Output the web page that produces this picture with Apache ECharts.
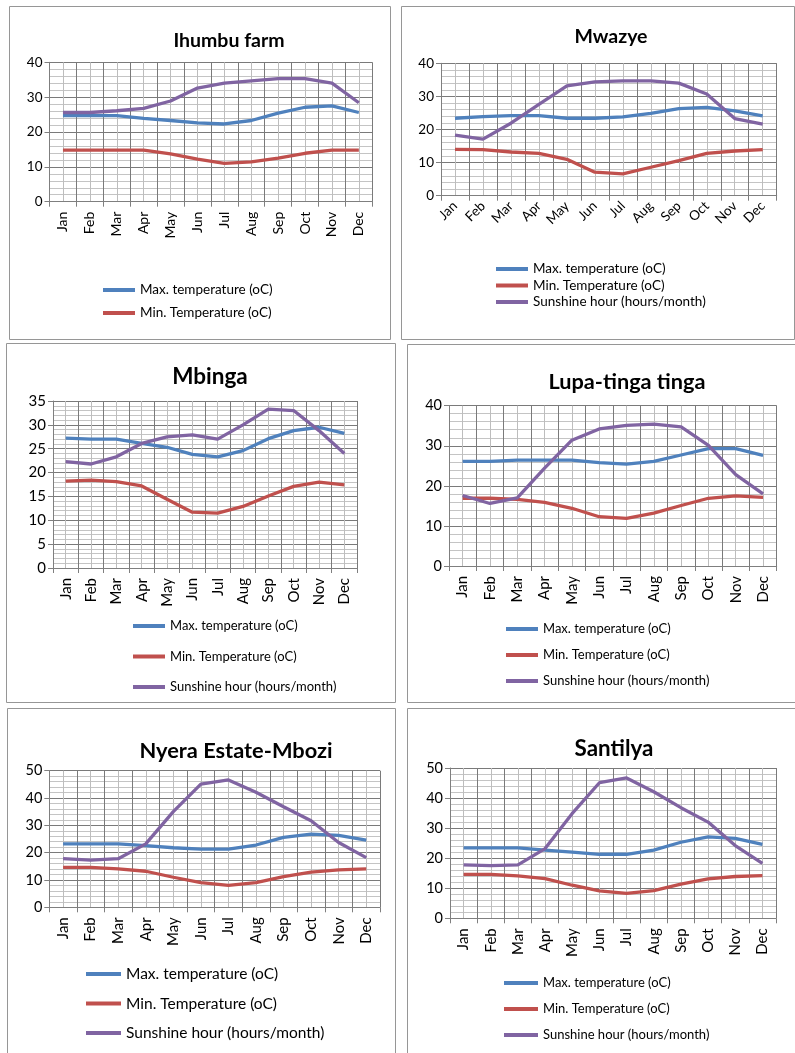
<!DOCTYPE html>
<html><head><meta charset="utf-8">
<script src="https://cdn.jsdelivr.net/npm/echarts@6/dist/echarts.min.js"></script>
<style>html,body{margin:0;padding:0;background:#fff}#c{width:795px;height:1053px}</style>
</head><body><div id="c"></div>
<script>
// ---- data ----
const months = ['Jan','Feb','Mar','Apr','May','Jun','Jul','Aug','Sep','Oct','Nov','Dec'];
const seriesNames = ['Max. temperature (oC)','Min. Temperature (oC)','Sunshine hour (hours/month)'];
const panelTitles = ['Ihumbu farm','Mwazye','Mbinga','Lupa-tinga tinga','Nyera Estate-Mbozi','Santilya'];
const yMaxima = [40, 40, 35, 40, 50, 50];
const yIntervals = [10, 10, 5, 10, 10, 10];

const ihumbuMax = [24.7,24.7,24.7,23.9,23.3,22.6,22.3,23.3,25.4,27.1,27.5,25.6];
const ihumbuMin = [14.8,14.8,14.8,14.8,13.7,12.2,11.0,11.4,12.5,13.9,14.8,14.8];
const ihumbuSun = [25.6,25.6,26.1,26.8,28.9,32.6,34.0,34.7,35.3,35.3,34.0,28.4];

const mwazyeMax = [23.4,23.9,24.2,24.2,23.4,23.4,23.8,24.9,26.3,26.7,25.6,24.1];
const mwazyeMin = [14.0,13.9,13.2,12.8,11.0,7.1,6.6,8.6,10.6,12.8,13.5,13.9];
const mwazyeSun = [18.3,17.1,21.9,27.6,33.2,34.4,34.7,34.7,34.0,30.7,23.3,21.6];

const mbingaMax = [27.2,27.0,27.0,26.1,25.3,23.8,23.3,24.6,27.1,28.8,29.5,28.2];
const mbingaMin = [18.2,18.4,18.1,17.2,14.4,11.7,11.5,12.9,15.1,17.1,18.0,17.4];
const mbingaSun = [22.3,21.8,23.3,26.1,27.5,27.9,27.0,30.0,33.3,33.0,28.8,24.0];

const lupaMax = [26.1,26.1,26.4,26.4,26.4,25.8,25.4,26.1,27.7,29.3,29.3,27.6];
const lupaMin = [16.9,16.9,16.6,15.9,14.4,12.3,11.9,13.2,15.1,16.9,17.5,17.1];
const lupaSun = [17.6,15.6,17.0,24.4,31.4,34.2,35.1,35.4,34.7,30.1,22.8,18.0];

const nyeraMax = [23.2,23.2,23.2,22.6,21.8,21.3,21.3,22.8,25.6,26.8,26.3,24.6];
const nyeraMin = [14.6,14.6,14.1,13.2,11.0,9.0,8.0,9.0,11.2,12.9,13.7,14.1];
const nyeraSun = [17.8,17.3,17.8,23.2,35.0,45.1,46.6,42.1,36.8,31.7,23.7,18.2];

const santilyaMax = [23.4,23.4,23.4,22.7,22.0,21.3,21.3,22.7,25.3,27.1,26.6,24.6];
const santilyaMin = [14.6,14.6,14.1,13.2,11.0,9.1,8.3,9.2,11.4,13.1,13.9,14.2];
const santilyaSun = [17.8,17.5,17.8,23.2,34.9,45.1,46.7,42.1,36.8,32.0,24.2,18.3];

const panelData = [
  [ihumbuMax, ihumbuMin, ihumbuSun],
  [mwazyeMax, mwazyeMin, mwazyeSun],
  [mbingaMax, mbingaMin, mbingaSun],
  [lupaMax, lupaMin, lupaSun],
  [nyeraMax, nyeraMin, nyeraSun],
  [santilyaMax, santilyaMin, santilyaSun]
];
const legendCounts = [2, 3, 3, 3, 3, 3];

// ---- layout ----
const FONT = 'Lato, "Liberation Sans", sans-serif';
const colors = ['#4F81BD', '#C0504D', '#8064A2'];
const layout = [
  {box:[9,6,381,333],   grid:[49.5,62.3,322.8,139.4], title:[229,42.7,19.5], ySize:13.5, xSize:14, rot:90, xMargin:10, lg:[103,290,23,13.5,32]},
  {box:[401,6,393,333], grid:[441,63.3,335.7,132.4],  title:[611,38.7,19.5], ySize:13.5, xSize:13.5, rot:45, xMargin:8,  lg:[496,269,16.5,13.5,32]},
  {box:[6,343,389,359], grid:[53,401,304,167],        title:[210,379.5,22.5], ySize:15, xSize:15, rot:90, xMargin:10, lg:[133,626,30.5,13,32]},
  {box:[407,344,388,358], grid:[449,405.7,327.7,160.3], title:[627,384.5,21.7], ySize:14.5, xSize:15, rot:90, xMargin:10, lg:[506,629,26,13,32]},
  {box:[7,708,388,360], grid:[49.3,770.7,330.7,136.6], title:[236,753.5,21.8], ySize:14.5, xSize:15, rot:90, xMargin:10, lg:[86,974,29.5,15.5,35]},
  {box:[407,708,388,360], grid:[450,768,326,150.3],   title:[614,752,22.4], ySize:14.5, xSize:15, rot:90, xMargin:10, lg:[504,983,26,13,34]}
];

const option = {
  animation: false,
  backgroundColor: '#fff',
  title: [], grid: [], xAxis: [], yAxis: [], series: [], legend: [],
  graphic: []
};

layout.forEach((L, i) => {
  option.graphic.push({type:'rect', shape:{x:L.box[0]+0.5, y:L.box[1]+0.5, width:L.box[2], height:L.box[3]},
    style:{fill:'none', stroke:'#969696', lineWidth:1}, z:-10});
  option.title.push({text: panelTitles[i], left: L.title[0], top: L.title[1] - L.title[2]*0.62, textAlign:'center', padding:0,
    textStyle:{fontFamily:FONT, fontWeight:'bold', fontSize:L.title[2], color:'#000'}});
  option.grid.push({left:L.grid[0], top:L.grid[1], width:L.grid[2], height:L.grid[3], containLabel:false});
  option.xAxis.push({type:'category', gridIndex:i, data:months, boundaryGap:true,
    axisLine:{lineStyle:{color:'#7f7f7f', width:1}},
    axisTick:{show:true, length:5, lineStyle:{color:'#7f7f7f'}},
    axisLabel:{rotate:L.rot, fontFamily:FONT, fontSize:L.xSize, color:'#000', margin:L.xMargin, interval:0},
    splitLine:{show:false}});
  option.xAxis.push({type:'value', gridIndex:i, min:0, max:24, interval:1, show:true,
    axisLine:{show:false}, axisTick:{show:false}, axisLabel:{show:false},
    splitLine:{show:true, lineStyle:{color:['#7a7a7a','#bdbdbd'], width:1}}});
  option.yAxis.push({type:'value', gridIndex:i, min:0, max:yMaxima[i], interval:yIntervals[i],
    axisLine:{show:true, lineStyle:{color:'#7f7f7f'}},
    axisTick:{show:true, length:5, lineStyle:{color:'#7f7f7f'}},
    axisLabel:{fontFamily:FONT, fontSize:L.ySize, color:'#000', margin:7},
    splitLine:{show:true, lineStyle:{color:'#7a7a7a', width:1}},
    minorTick:{show:false, splitNumber:5},
    minorSplitLine:{show:true, lineStyle:{color:'#c4c4c4', width:1}}});
  panelData[i].forEach((vals, k) => {
    option.series.push({type:'line', name:seriesNames[k], xAxisIndex:2*i, yAxisIndex:i, data:vals,
      symbol:'none', smooth:false, lineStyle:{width:3.3, color:colors[k]}, itemStyle:{color:colors[k]}, z:5});
  });
  const lh = Math.round(L.lg[3]*1.2);
  option.legend.push({data: seriesNames.slice(0, legendCounts[i]), orient:'vertical', left:L.lg[0], top:L.lg[1]-lh/2,
    itemGap: L.lg[2]-lh, itemWidth:L.lg[4], itemHeight:4, icon:'rect', padding:0, selectedMode:false,
    textStyle:{fontFamily:FONT, fontSize:L.lg[3], color:'#000', lineHeight:lh}});
});

const chart = echarts.init(document.getElementById('c'), null, {renderer:'canvas'});
chart.setOption(option);
</script></body></html>
